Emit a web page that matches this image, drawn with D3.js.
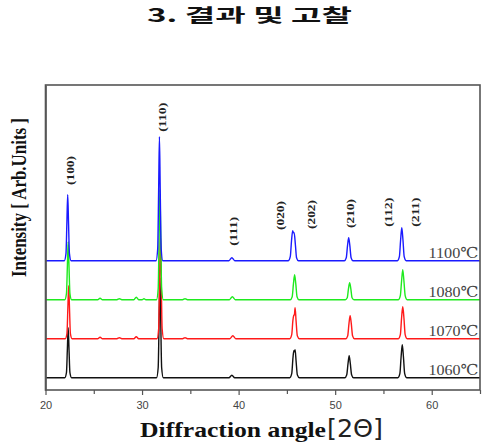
<!DOCTYPE html>
<html><head><meta charset="utf-8">
<script src="https://cdn.jsdelivr.net/npm/d3@7"></script>
<style>html,body{margin:0;padding:0;background:#fff;}svg{display:block;}</style>
</head><body>
<svg id="chart" width="485" height="445"></svg>
<script>
// ---------- data ----------
const title = "3. 결과 및 고찰";
const xLabel = "Diffraction angle";
const xLabelUnit = "[2Θ]";
const yLabel = "Intensity [ Arb.Units ]";
const temperatures = ["1060℃", "1070℃", "1080℃", "1100℃"];
const seriesColors = ["#111111", "#ff1a1a", "#1eea1e", "#1a1aff"];
const seriesOffsets = [0, 39, 78, 117];   // vertical stacking offsets (intensity units)
const majorTicks = [20, 30, 40, 50, 60];
const minorTicks = [25, 35, 45, 55, 65];

// 2θ, intensity pairs for each pattern
const pattern1060 = [[20,0],
 [22.0,0],[22.17,5],[22.27,30],[22.35,50],[22.43,30],[22.53,5],[22.7,0],
 [31.5,0],[31.67,10],[31.77,60],[31.85,100],[31.93,60],[32.03,10],[32.2,0],
 [39.0,0],[39.3,2.5],[39.6,0],
 [45.3,0],[45.5,4],[45.63,20],[45.72,27],[45.78,26],[45.85,28],[45.95,17],[46.08,3],[46.3,0],
 [51.0,0],[51.2,3],[51.33,14],[51.45,22],[51.57,14],[51.7,3],[51.9,0],
 [56.5,0],[56.7,4],[56.83,21],[56.95,33],[57.07,21],[57.2,4],[57.4,0],
 [65,0]];
const pattern1070 = [[20,0],
 [22.05,0],[22.22,5],[22.32,32],[22.4,53],[22.48,32],[22.58,5],[22.75,0],
 [25.4,0],[25.65,1.5],[25.9,0],
 [27.4,0],[27.65,1],[27.9,0],
 [29.15,0],[29.4,2],[29.65,0],
 [31.55,0],[31.72,10],[31.82,63],[31.9,105],[31.98,63],[32.08,10],[32.25,0],
 [34.2,0],[34.45,1],[34.7,0],
 [39.1,0],[39.4,3],[39.7,0],
 [45.3,0],[45.5,4],[45.62,18],[45.7,23],[45.78,24],[45.85,31],[45.95,18],[46.08,3],[46.3,0],
 [51.1,0],[51.3,3],[51.43,15],[51.55,23],[51.67,15],[51.8,3],[52.0,0],
 [56.55,0],[56.75,4],[56.88,21],[57.0,32],[57.12,21],[57.25,4],[57.45,0],
 [65,0]];
const pattern1080 = [[20,0],
 [22.0,0],[22.17,6],[22.27,35],[22.35,58],[22.43,35],[22.53,6],[22.7,0],
 [25.4,0],[25.65,1.5],[25.9,0],
 [27.4,0],[27.65,1],[27.9,0],
 [29.15,0],[29.4,2.5],[29.65,0],
 [30.0,0],[30.2,1],[30.4,0],
 [31.5,0],[31.67,11],[31.77,66],[31.85,110],[31.93,66],[32.03,11],[32.2,0],
 [34.2,0],[34.45,1],[34.7,0],
 [39.05,0],[39.35,3],[39.65,0],
 [45.35,0],[45.55,3],[45.68,16],[45.8,25],[45.92,16],[46.05,3],[46.25,0],
 [51.05,0],[51.25,2],[51.38,11],[51.5,17],[51.62,11],[51.75,2],[51.95,0],
 [56.55,0],[56.75,4],[56.88,19],[57.0,30],[57.12,19],[57.25,4],[57.45,0],
 [65,0]];
const pattern1100 = [[20,0],
 [21.95,0],[22.12,7],[22.22,40],[22.3,66],[22.38,40],[22.48,7],[22.65,0],
 [31.45,0],[31.62,12],[31.72,72],[31.8,124],[31.88,72],[31.98,12],[32.15,0],
 [39.0,0],[39.3,3],[39.6,0],
 [45.15,0],[45.35,4],[45.48,20],[45.6,30],[45.68,28],[45.75,28],[45.88,16],[46.0,3],[46.2,0],
 [50.95,0],[51.15,3],[51.28,15],[51.4,23],[51.52,15],[51.65,3],[51.85,0],
 [56.45,0],[56.65,4],[56.78,21],[56.9,33],[57.02,21],[57.15,4],[57.35,0],
 [65,0]];
const patterns = [pattern1060, pattern1070, pattern1080, pattern1100];

// Miller-index annotations: label, 2θ, intensity at label start
const hklLabels = ["(100)", "(110)", "(111)", "(020)", "(202)", "(210)", "(112)", "(211)"];
const hklTheta  = [22.6, 32.1, 39.4, 44.35, 47.5, 51.55, 55.45, 58.27];
const hklLevel  = [192.7, 246, 132, 147.7, 148.7, 149.7, 151, 151];

// ---------- drawing ----------
const svg = d3.select("#chart");
const mLeft = 45.5, mRight = 480, mTop = 85, mBottom = 390;

const x = d3.scaleLinear().domain([20, 65]).range([mLeft, mRight]);
const y = d3.scaleLinear().domain([-12.3, 292.7]).range([mBottom, mTop]);

// title
svg.append("text")
  .attr("x", 147).attr("y", 21.5)
  .attr("textLength", 205).attr("lengthAdjust", "spacingAndGlyphs")
  .style("font-family", "'Noto Sans CJK KR', sans-serif")
  .style("font-weight", 700).style("font-size", "18.5px").style("fill", "#111")
  .text(title);

// traces (black first, blue on top)
const line = d3.line().x(d => x(d[0])).curve(d3.curveMonotoneX);
patterns.forEach((p, i) => {
  svg.append("path")
    .attr("d", line.y(d => y(d[1] + seriesOffsets[i]))(p))
    .attr("fill", "none")
    .attr("stroke", seriesColors[i])
    .attr("stroke-width", 1.4)
    .attr("stroke-linejoin", "round");
});

// temperature labels
temperatures.forEach((t, i) => {
  svg.append("text")
    .attr("x", 478.5).attr("y", y(seriesOffsets[i]) - 2.3)
    .attr("text-anchor", "end")
    .attr("textLength", 50).attr("lengthAdjust", "spacingAndGlyphs")
    .style("font-family", "'Liberation Serif', 'DejaVu Serif', serif")
    .style("font-size", "15px").style("fill", "#444")
    .text(t);
});

// hkl labels
hklLabels.forEach((lab, i) => {
  svg.append("text")
    .attr("transform", `translate(${x(hklTheta[i])},${y(hklLevel[i])}) rotate(-90)`)
    .attr("dy", "0.35em")
    .attr("textLength", 29).attr("lengthAdjust", "spacingAndGlyphs")
    .style("font-family", "'Liberation Serif', serif")
    .style("font-weight", 700).style("font-size", "11px").style("fill", "#222")
    .text(lab);
});

// axes
const gx = svg.append("g").attr("transform", `translate(0,${mBottom})`)
  .call(d3.axisBottom(x).tickValues(majorTicks).tickSize(5).tickSizeOuter(0).tickFormat(d3.format("d")));
gx.select(".domain").remove();
gx.selectAll(".tick line").attr("stroke", "#555").attr("stroke-width", 1.2);
gx.selectAll(".tick text")
  .attr("y", 11)
  .style("font-family", "'Liberation Sans', Arial, sans-serif")
  .style("font-size", "11px").style("fill", "#444");

const gm = svg.append("g").attr("transform", `translate(0,${mBottom})`)
  .call(d3.axisBottom(x).tickValues(minorTicks).tickSize(4).tickSizeOuter(0).tickFormat(""));
gm.select(".domain").remove();
gm.selectAll(".tick line").attr("stroke", "#555").attr("stroke-width", 1.2);

const gy = svg.append("g").attr("transform", `translate(${mLeft},0)`)
  .call(d3.axisLeft(y).tickValues([]).tickSizeOuter(0));
gy.select(".domain").attr("stroke", "#555").attr("stroke-width", 1.6);

// frame
svg.append("rect")
  .attr("x", mLeft).attr("y", mTop)
  .attr("width", mRight - mLeft).attr("height", mBottom - mTop)
  .attr("fill", "none").attr("stroke", "#555").attr("stroke-width", 1.6);

// x label
const xl = svg.append("text").attr("x", 140).attr("y", 437)
  .style("fill", "#111");
xl.append("tspan")
  .attr("textLength", 186).attr("lengthAdjust", "spacingAndGlyphs")
  .style("font-family", "'Liberation Serif', serif")
  .style("font-weight", 700).style("font-size", "22px")
  .text(xLabel);
xl.append("tspan")
  .attr("x", 327)
  .attr("textLength", 56).attr("lengthAdjust", "spacingAndGlyphs")
  .style("font-family", "'DejaVu Sans', sans-serif")
  .style("font-weight", 400).style("font-size", "25px").style("fill", "#222")
  .text(xLabelUnit);

// y label
svg.append("text")
  .attr("transform", "translate(25.5,197.5) rotate(-90)")
  .attr("text-anchor", "middle")
  .attr("textLength", 159).attr("lengthAdjust", "spacingAndGlyphs")
  .style("font-family", "'Liberation Serif', serif")
  .style("font-weight", 700).style("font-size", "21px").style("fill", "#111")
  .text(yLabel);
</script>
</body></html>
